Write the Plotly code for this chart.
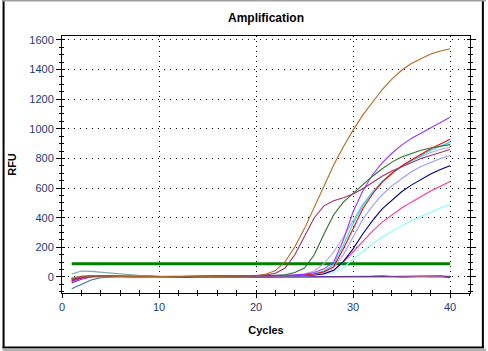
import plotly.graph_objects as go

cycles = list(range(1, 41))
threshold = 90

brown = [-10, 5, 8, 6, 4, 3, 2, 2, 3, 2, 1, 2, 3, 2, 3, 4, 4, 5, 6, 8, 18, 43, 103, 204, 328, 474, 620, 755, 879, 991, 1092, 1182, 1265, 1335, 1395, 1440, 1475, 1505, 1525, 1540]
maroon = [-20, 0, 5, 8, 6, 5, 4, 4, 5, 3, 3, 4, 4, 5, 5, 6, 7, 8, 8, 10, 14, 25, 60, 150, 280, 400, 480, 515, 535, 560, 595, 640, 680, 715, 745, 775, 800, 820, 840, 860]
dkgreen = [-15, 2, 6, 5, 4, 3, 3, 2, 2, 3, 2, 2, 3, 3, 4, 4, 5, 5, 6, 6, 8, 10, 15, 30, 60, 150, 290, 420, 505, 565, 620, 680, 730, 775, 810, 835, 855, 870, 883, 893]
violet = [-30, -5, 3, 5, 4, 3, 2, 2, 1, 2, 2, 3, 3, 3, 4, 4, 5, 5, 6, 6, 7, 8, 10, 12, 18, 30, 55, 100, 250, 440, 580, 690, 770, 835, 890, 935, 970, 1005, 1040, 1078]
red = [-25, -5, 4, 5, 4, 3, 3, 2, 2, 2, 3, 3, 3, 4, 4, 4, 5, 5, 5, 6, 6, 7, 8, 10, 14, 20, 35, 70, 190, 330, 460, 560, 640, 700, 750, 790, 830, 865, 897, 930]
cyan = [-10, 0, 5, 6, 5, 4, 3, 3, 2, 2, 2, 3, 3, 3, 4, 4, 4, 5, 5, 5, 6, 7, 8, 10, 14, 22, 40, 85, 215, 360, 480, 575, 645, 700, 745, 785, 820, 855, 885, 910]
lavender = [-5, 5, 8, 7, 5, 4, 3, 3, 3, 2, 3, 3, 4, 4, 4, 5, 5, 6, 6, 7, 8, 9, 11, 14, 22, 40, 90, 170, 270, 380, 490, 570, 640, 695, 745, 785, 815, 840, 860, 875]
periwinkle = [-20, -5, 2, 4, 3, 3, 2, 2, 2, 2, 3, 3, 3, 3, 4, 4, 4, 5, 5, 5, 6, 6, 7, 9, 12, 18, 30, 65, 150, 275, 390, 480, 555, 615, 665, 710, 745, 775, 800, 820]
navy = [-15, -3, 3, 4, 3, 3, 2, 2, 2, 2, 2, 3, 3, 3, 3, 4, 4, 4, 5, 5, 5, 6, 7, 8, 10, 14, 22, 45, 105, 190, 290, 380, 460, 520, 575, 620, 660, 695, 725, 750]
pink = [-30, -10, 2, 5, 5, 4, 5, 10, 8, 4, 3, 3, 3, 3, 4, 4, 4, 4, 5, 5, 5, 6, 7, 8, 10, 14, 22, 45, 100, 170, 240, 310, 370, 420, 465, 505, 545, 580, 612, 645]
lightcyan = [-10, 5, 8, 6, 5, 4, 3, 3, 3, 2, 2, 2, 3, 3, 3, 3, 4, 4, 4, 4, 5, 5, 6, 7, 8, 10, 15, 30, 65, 120, 175, 225, 270, 310, 345, 380, 410, 440, 465, 490]
grayteal = [20, 40, 38, 32, 25, 18, 12, 8, 5, 3, 2, 0, -2, -3, -3, -2, -2, -3, -3, -2, -2, -1, -2, -2, -2, -2, -1, -1, -1, -1, -1, -1, 0, 0, 0, 0, 0, 0, 0, 0]
steelblue = [-80, -50, -20, -5, 0, 2, 3, 2, 2, 3, 4, 2, 1, 0, 1, 2, 2, 1, 0, 2, 3, 2, 2, 3, 2, 2, 1, 2, 3, 2, 2, 3, 5, 4, 3, 4, 4, 5, 4, 3]
blue = [-10, 0, 2, 2, 1, 1, 0, 1, 1, 2, 1, 0, 1, 1, 2, 1, 2, 1, 2, 1, 0, 1, 1, 1, 1, 2, 1, 1, 2, 2, 3, 4, 8, 3, -2, 2, 5, 2, 3, -4]
salmon = [-5, 2, 3, 3, 2, 0, -5, -3, 0, 2, 2, 1, 1, 2, 2, 1, 0, 0, -2, -3, -4, -4, -3, -2, -3, -2, 0, 2, 4, 3, 2, 0, 1, 3, 5, 3, 2, 6, 8, 6]
dkpurple = [-40, -15, 0, 8, 10, 6, 4, 3, 5, 2, -2, -5, -3, 0, 1, 2, 3, 2, 1, -2, -3, -2, 0, 1, 2, 2, 3, 4, 3, 2, 4, 5, 3, 4, 2, 4, 6, 10, 8, 2]

x_ticks = [0, 10, 20, 30, 40]
y_ticks = [0, 200, 400, 600, 800, 1000, 1200, 1400, 1600]

series = [
    (grayteal, "#7fa5a5"), (steelblue, "#3a6ea5"), (blue, "#3344ee"),
    (salmon, "#ff9999"), (dkpurple, "#663399"),
    (lightcyan, "#80ffff"), (pink, "#ff3399"), (navy, "#000080"),
    (periwinkle, "#9999ff"), (lavender, "#b4a7d6"), (cyan, "#00e8f0"),
    (red, "#ff0000"), (violet, "#9933ff"), (dkgreen, "#2f6f2f"),
    (maroon, "#993366"), (brown, "#b06a20"),
]

fig = go.Figure()
fig.add_trace(go.Scatter(x=cycles, y=[threshold] * len(cycles), mode="lines",
                         line=dict(color="#008000", width=3), showlegend=False))
for vals, col in series:
    fig.add_trace(go.Scatter(x=cycles, y=vals, mode="lines",
                             line=dict(color=col, width=1.1), showlegend=False))
# overlay axes to give crossing ticks
fig.add_trace(go.Scatter(x=[], y=[], xaxis="x2", yaxis="y2", showlegend=False))

font_fam = "Liberation Sans, Arial, sans-serif"
tick_font = dict(family=font_fam, size=11, color="#1b3a73")
xr = [0, 42.05]
yr = [-108, 1626]

fig.update_layout(
    width=488, height=351,
    margin=dict(l=60, r=16, t=36, b=58),
    paper_bgcolor="white", plot_bgcolor="white",
    title=dict(text="Amplification", x=0.5, xanchor="center", xref="paper",
               y=1 - 18 / 351, yanchor="middle", yref="container",
               font=dict(family=font_fam, size=12, color="black", weight="bold")),
    xaxis=dict(range=xr, tickvals=x_ticks, ticks="outside", ticklen=4, tickcolor="black",
               showline=True, linecolor="black", linewidth=1, mirror=True,
               showgrid=True, gridcolor="black", gridwidth=1, griddash="1px,4px",
               zeroline=False, tickfont=tick_font,
               minor=dict(tick0=0, dtick=2, ticks="outside", ticklen=2, tickcolor="black", showgrid=False),
               title=dict(text="Cycles", standoff=14,
                          font=dict(family=font_fam, size=11, color="black", weight="bold"))),
    yaxis=dict(range=yr, tickvals=y_ticks, ticks="outside", ticklen=5, tickcolor="black",
               showline=True, linecolor="black", linewidth=1, mirror="ticks",
               showgrid=True, gridcolor="black", gridwidth=1, griddash="1px,5px",
               zeroline=False, tickfont=tick_font,
               minor=dict(tick0=0, dtick=50, ticks="outside", ticklen=2, tickcolor="black", showgrid=False),
               title=dict(text="RFU", standoff=10,
                          font=dict(family=font_fam, size=11, color="black", weight="bold"))),
    xaxis2=dict(range=xr, overlaying="x", tickvals=x_ticks, ticks="inside", ticklen=3,
                tickcolor="black", showticklabels=False, showgrid=False, zeroline=False,
                showline=False,
                minor=dict(tick0=0, dtick=2, ticks="inside", ticklen=3, tickcolor="black", showgrid=False)),
    yaxis2=dict(range=yr, overlaying="y", tickvals=y_ticks, ticks="inside", ticklen=3,
                tickcolor="black", showticklabels=False, showgrid=False, zeroline=False,
                showline=False, mirror="ticks",
                minor=dict(tick0=0, dtick=50, ticks="inside", ticklen=2, tickcolor="black", showgrid=False)),
)

# outer frame of the image
def px_x(p):
    return (p - 60) / 412

def px_y(p):
    return (293 - p) / 257

frame = dict(type="line", xref="paper", yref="paper", line=dict(color="black", width=2))
fig.add_shape(**frame, x0=px_x(1), x1=px_x(1), y0=px_y(0), y1=px_y(348))
fig.add_shape(**frame, x0=px_x(485), x1=px_x(485), y0=px_y(0), y1=px_y(348))
fig.add_shape(**frame, x0=px_x(0), x1=px_x(486), y0=px_y(347.5), y1=px_y(347.5))
fig.add_shape(type="line", xref="paper", yref="paper", line=dict(color="#a0a0a0", width=2),
              x0=px_x(0), x1=px_x(488), y0=px_y(0.5), y1=px_y(0.5))
fig.add_shape(type="line", xref="paper", yref="paper", line=dict(color="#b0b0b0", width=3),
              x0=px_x(0), x1=px_x(488), y0=px_y(350), y1=px_y(350))

fig.write_html("out.html")
